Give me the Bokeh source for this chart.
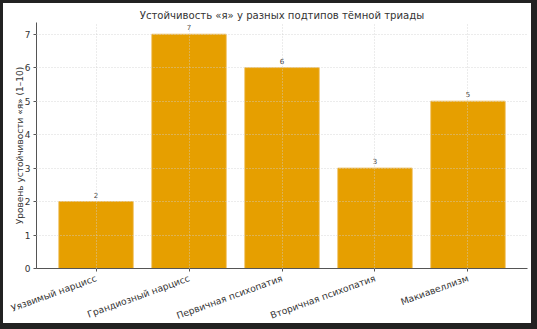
import math
from bokeh.plotting import figure
from bokeh.models import ColumnDataSource, FactorRange, Range1d, FixedTicker
from bokeh.core.properties import value
from bokeh.embed import file_html
from bokeh.resources import INLINE

categories = ["Уязвимый нарцисс", "Грандиозный нарцисс", "Первичная психопатия",
              "Вторичная психопатия", "Макиавеллизм"]
values = [2, 7, 6, 3, 5]
y_ticks = [0, 1, 2, 3, 4, 5, 6, 7]
title = "Устойчивость «я» у разных подтипов тёмной триады"
y_label = "Уровень устойчивости «я» (1–10)"

FONT = "DejaVu Sans"
src = ColumnDataSource(dict(cat=categories, val=values, lab=[str(v) for v in values]))

frame_css = """
:host { position: relative; }
:host::after {
  content: "";
  position: absolute;
  left: 0; top: 0; right: 0; bottom: 0;
  border-style: solid;
  border-color: #222222;
  border-width: 3px 6px 6px 3px;
  pointer-events: none;
  z-index: 1000;
}
"""

p = figure(x_range=FactorRange(*categories, range_padding=0.056),
           y_range=Range1d(0, 7.35),
           width=537, height=329,
           output_backend="svg", toolbar_location=None,
           min_border_left=36, min_border_right=10, min_border_top=22, min_border_bottom=60,
           background_fill_color="white", border_fill_color="white",
           styles={"outline": "3px solid #222222", "outline-offset": "-3px"},
           stylesheets=[frame_css])
p.outline_line_color = None

p.title.text = title
p.title.align = "center"
p.title.text_font = FONT
p.title.text_font_size = "10.1px"
p.title.text_font_style = "normal"
p.title.text_color = "#333333"
p.title.standoff = 4

p.vbar(x="cat", top="val", width=0.8, source=src, fill_color="#E69F00",
       line_color="#EDB84A", line_width=0.8)
p.text(x="cat", y="val", text="lab", source=src, y_offset=-4,
       text_align="center", text_baseline="bottom", text_font=value(FONT),
       text_font_size="7px", text_color="#444444")

for g in (p.xgrid, p.ygrid):
    g.grid_line_color = "#cfcfcf"
    g.grid_line_dash = "1 2"
    g.grid_line_width = 0.8
    g.level = "annotation"
p.ygrid.ticker = FixedTicker(ticks=y_ticks)

p.yaxis.ticker = FixedTicker(ticks=y_ticks)
p.yaxis.axis_label = y_label
p.yaxis.axis_label_text_font = FONT
p.yaxis.axis_label_text_font_style = "normal"
p.yaxis.axis_label_text_font_size = "9px"
p.yaxis.axis_label_text_color = "#333333"
p.yaxis.axis_label_standoff = -3

for ax in (p.xaxis, p.yaxis):
    ax.axis_line_color = "#555555"
    ax.axis_line_width = 1
    ax.major_tick_line_color = "#555555"
    ax.major_tick_out = 3
    ax.major_tick_in = 0
    ax.minor_tick_line_color = None
    ax.major_label_text_font = FONT
    ax.major_label_text_color = "#333333"
    ax.major_label_standoff = 3

p.yaxis.major_label_text_font_size = "9px"
p.xaxis.major_label_text_font_size = "9.2px"
p.xaxis.major_label_orientation = math.radians(20)
p.xaxis.major_label_standoff = 6
p.xaxis.group_text_font_size = "0px"

open("out.html", "w").write(file_html(p, INLINE))
